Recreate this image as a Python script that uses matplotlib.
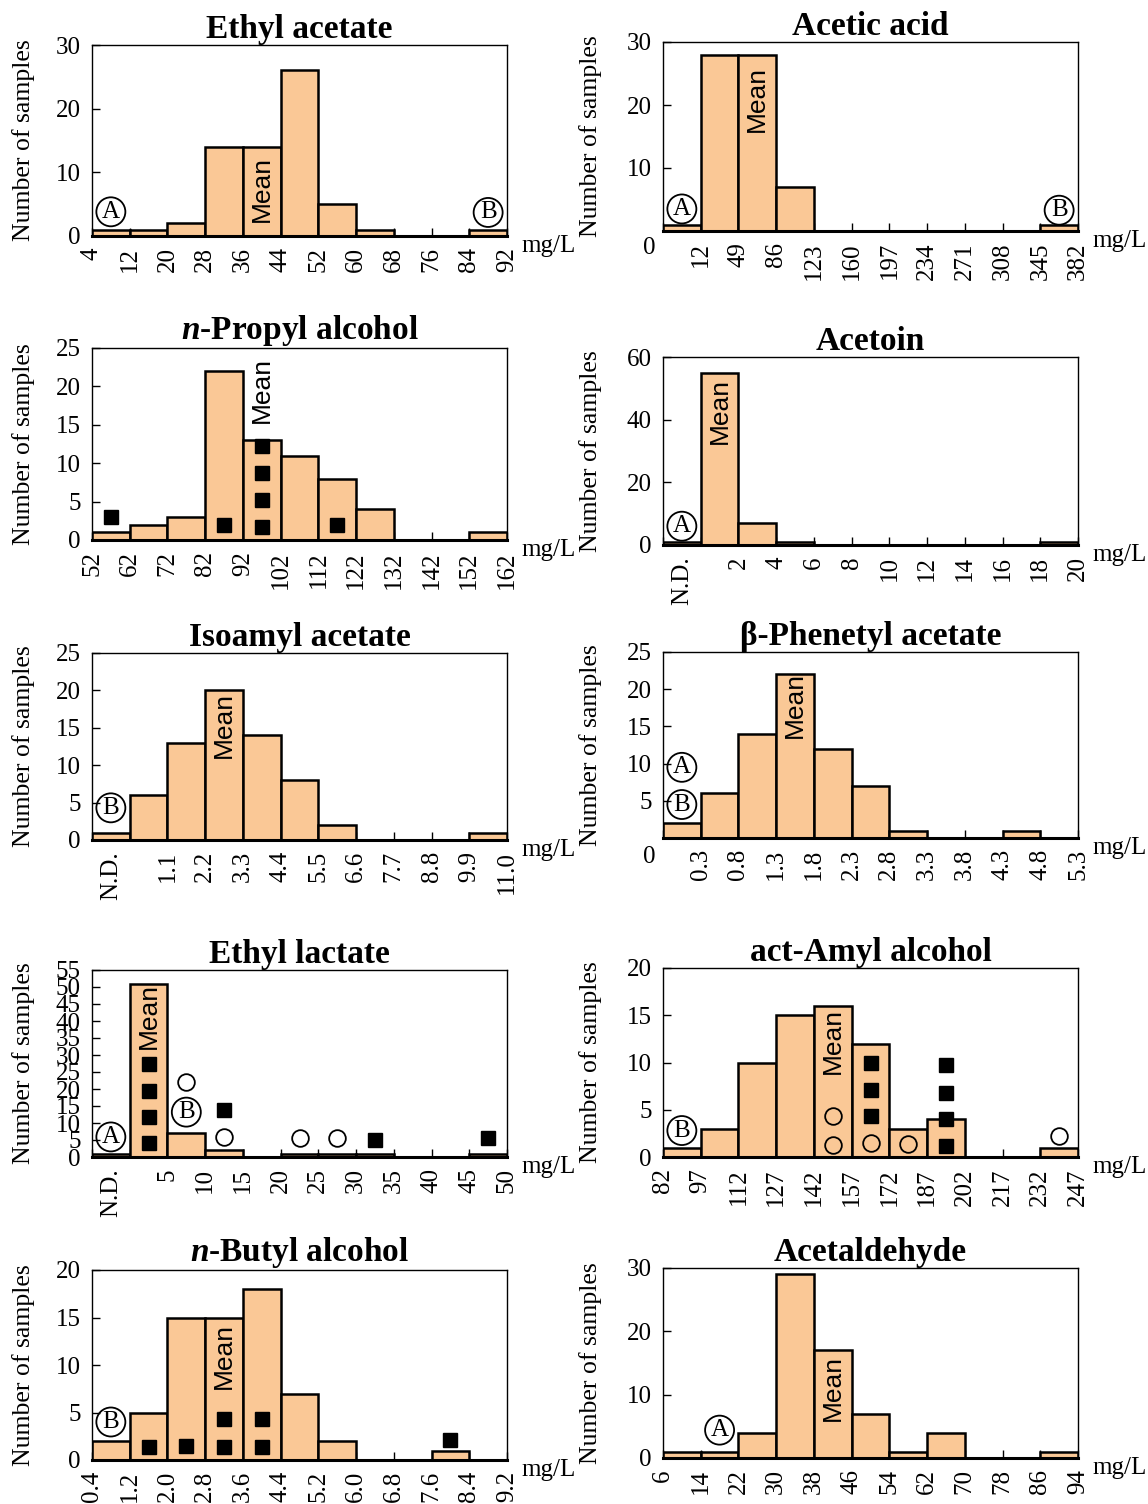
import matplotlib
matplotlib.use('Agg')
import matplotlib.pyplot as plt
import numpy as np

plt.rcParams['font.family'] = ['Liberation Serif', 'DejaVu Serif']
plt.rcParams['mathtext.fontset'] = 'custom'
plt.rcParams['mathtext.it'] = 'Liberation Serif:italic:bold'
plt.rcParams['mathtext.rm'] = 'Liberation Serif:bold'

# ---------------- data ----------------
ethyl_acetate_counts = [1, 1, 2, 14, 14, 26, 5, 1, 0, 0, 1]
ethyl_acetate_edges = ['4', '12', '20', '28', '36', '44', '52', '60', '68', '76', '84', '92']

acetic_acid_counts = [1, 28, 28, 7, 0, 0, 0, 0, 0, 0, 1]
acetic_acid_edges = ['', '12', '49', '86', '123', '160', '197', '234', '271', '308', '345', '382']

n_propyl_counts = [1, 2, 3, 22, 13, 11, 8, 4, 0, 0, 1]
n_propyl_edges = ['52', '62', '72', '82', '92', '102', '112', '122', '132', '142', '152', '162']
n_propyl_sq_bin = [0, 3, 4, 4, 4, 4, 6]
n_propyl_sq_y = [3.0, 2.0, 1.7, 5.2, 8.7, 12.3, 2.0]

acetoin_counts = [1, 55, 7, 1, 0, 0, 0, 0, 0, 0, 1]
acetoin_edges = ['', '', '2', '4', '6', '8', '10', '12', '14', '16', '18', '20']

isoamyl_counts = [1, 6, 13, 20, 14, 8, 2, 0, 0, 0, 1]
isoamyl_edges = ['', '', '1.1', '2.2', '3.3', '4.4', '5.5', '6.6', '7.7', '8.8', '9.9', '11.0']

phenetyl_counts = [2, 6, 14, 22, 12, 7, 1, 0, 0, 1, 0]
phenetyl_edges = ['', '0.3', '0.8', '1.3', '1.8', '2.3', '2.8', '3.3', '3.8', '4.3', '4.8', '5.3']

ethyl_lactate_counts = [1, 51, 7, 2, 0, 1, 1, 1, 0, 0, 1]
ethyl_lactate_edges = ['', '', '5', '10', '15', '20', '25', '30', '35', '40', '45', '50']
ethyl_lactate_sq_bin = [1, 1, 1, 1, 3, 7, 10]
ethyl_lactate_sq_y = [4.1, 11.7, 19.5, 27.5, 13.7, 5.1, 5.6]
ethyl_lactate_oc_bin = [2, 3, 5, 6]
ethyl_lactate_oc_y = [22.0, 5.9, 5.6, 5.6]

amyl_counts = [1, 3, 10, 15, 16, 12, 3, 4, 0, 0, 1]
amyl_edges = ['82', '97', '112', '127', '142', '157', '172', '187', '202', '217', '232', '247']
amyl_sq_bin = [5, 5, 5, 7, 7, 7, 7]
amyl_sq_y = [4.3, 7.1, 9.9, 1.2, 4.0, 6.8, 9.75]
amyl_oc_bin = [4, 4, 5, 6, 10]
amyl_oc_y = [1.3, 4.3, 1.5, 1.4, 2.2]

butyl_counts = [2, 5, 15, 15, 18, 7, 2, 0, 0, 1, 0]
butyl_edges = ['0.4', '1.2', '2.0', '2.8', '3.6', '4.4', '5.2', '6.0', '6.8', '7.6', '8.4', '9.2']
butyl_sq_bin = [1, 2, 3, 3, 4, 4, 9]
butyl_sq_y = [1.4, 1.5, 1.4, 4.3, 1.4, 4.3, 2.1]

acetaldehyde_counts = [1, 1, 4, 29, 17, 7, 1, 4, 0, 0, 1]
acetaldehyde_edges = ['6', '14', '22', '30', '38', '46', '54', '62', '70', '78', '86', '94']

# ---------------- drawing ----------------
W, H = 1148, 1504
FILL = '#FAC896'
fig = plt.figure(figsize=(W / 100, H / 100), dpi=100)


def panel(box, title, counts, edges, ymax, ystep, mean, circled=(), nd=False,
          sq_bin=(), sq_y=(), oc_bin=(), oc_y=(), zero_drop=0, label_gap=57):
    l, t, r, b = box
    ax = fig.add_axes([l / W, 1 - b / H, (r - l) / W, (b - t) / H])
    n = len(counts)
    ax.bar(np.arange(n), counts, width=1, align='edge', color=FILL,
           edgecolor='black', linewidth=1.8, zorder=2)
    ax.set_xlim(0, n)
    ax.set_ylim(0, ymax)
    ax.set_xticks(np.arange(n + 1))
    ax.set_xticklabels(edges, rotation=90, fontsize=18)
    if nd:
        ax.set_xticks([0.5], minor=True)
        ax.set_xticklabels(['N.D.'], minor=True, rotation=90, fontsize=18)
        ax.tick_params(axis='x', which='minor', length=0, pad=8)
    yt = np.arange(0, ymax + 0.01, ystep)
    ax.set_yticks(yt)
    ylabels = ['%g' % v for v in yt]
    if zero_drop:
        ylabels[0] = ''
        ax.annotate('0', xy=(0, 0), xycoords='axes fraction', xytext=(-8, -zero_drop),
                    textcoords='offset pixels', ha='right', va='center', fontsize=18)
    ax.set_yticklabels(ylabels, fontsize=18)
    ax.tick_params(axis='both', which='major', direction='in', length=6, width=1)
    ax.tick_params(axis='x', which='major', pad=8)
    ax.tick_params(axis='y', which='major', pad=8)
    for s in ['top', 'right', 'left']:
        ax.spines[s].set_linewidth(1.0)
    ax.spines['bottom'].set_linewidth(2.2)
    ax.set_title(title, fontsize=24, fontweight='bold', pad=5)
    ax.set_ylabel('Number of samples', fontsize=18.5)
    ax.yaxis.set_label_coords(-label_gap / (r - l), 0.5)
    ax.annotate('mg/L', xy=(1, 0), xycoords='axes fraction', xytext=(14, -10),
                textcoords='offset pixels', ha='left', va='center', fontsize=18)
    mb, my = mean
    ax.text(mb + 0.5, my, 'Mean', rotation=90, ha='center', va='center',
            family='Liberation Sans', fontsize=19, zorder=4)
    for cb, cy, letter in circled:
        ax.text(cb + 0.5, cy, letter, ha='center', va='center', fontsize=18, zorder=5,
                bbox=dict(boxstyle='circle,pad=0.14', fc='none', ec='black', lw=1.3))
    if len(sq_bin):
        ax.plot(np.array(sq_bin) + 0.5, sq_y, 's', color='black', ms=10.5, zorder=5)
    if len(oc_bin):
        ax.plot(np.array(oc_bin) + 0.5, oc_y, 'o', mfc='none', mec='black', ms=12,
                mew=1.3, zorder=5)
    return ax


L = (92, 507)
R = (663, 1078)
RG = 61

panel((L[0], 45, L[1], 236), 'Ethyl acetate', ethyl_acetate_counts, ethyl_acetate_edges,
      30, 10, (4, 7.4), circled=[(0, 3.8, 'A'), (10, 3.7, 'B')])
panel((R[0], 42, R[1], 231), 'Acetic acid', acetic_acid_counts, acetic_acid_edges,
      30, 10, (2, 21), circled=[(0, 3.5, 'A'), (10, 3.3, 'B')], zero_drop=17, label_gap=RG)
panel((L[0], 348, L[1], 540), r'$\it{n}$-Propyl alcohol', n_propyl_counts, n_propyl_edges,
      25, 5, (4, 19.5), sq_bin=n_propyl_sq_bin, sq_y=n_propyl_sq_y)
panel((R[0], 357, R[1], 545), 'Acetoin', acetoin_counts, acetoin_edges,
      60, 20, (1, 42.8), circled=[(0, 6, 'A')], nd=True, label_gap=RG)
panel((L[0], 653, L[1], 840), 'Isoamyl acetate', isoamyl_counts, isoamyl_edges,
      25, 5, (3, 15.4), circled=[(0, 4.3, 'B')], nd=True)
panel((R[0], 652, R[1], 838), '\u03b2-Phenetyl acetate', phenetyl_counts, phenetyl_edges,
      25, 5, (3, 17.9), circled=[(0, 9.5, 'A'), (0, 4.5, 'B')], zero_drop=19, label_gap=RG)
panel((L[0], 970, L[1], 1157), 'Ethyl lactate', ethyl_lactate_counts, ethyl_lactate_edges,
      55, 5, (1, 41.4), circled=[(0, 5.9, 'A'), (2, 13.2, 'B')], nd=True,
      sq_bin=ethyl_lactate_sq_bin, sq_y=ethyl_lactate_sq_y,
      oc_bin=ethyl_lactate_oc_bin, oc_y=ethyl_lactate_oc_y)
panel((R[0], 968, R[1], 1157), 'act-Amyl alcohol', amyl_counts, amyl_edges,
      20, 5, (4, 12.3), circled=[(0, 2.8, 'B')],
      sq_bin=amyl_sq_bin, sq_y=amyl_sq_y, oc_bin=amyl_oc_bin, oc_y=amyl_oc_y, label_gap=RG)
panel((L[0], 1270, L[1], 1460), r'$\it{n}$-Butyl alcohol', butyl_counts, butyl_edges,
      20, 5, (3, 10.9), circled=[(0, 4.0, 'B')], sq_bin=butyl_sq_bin, sq_y=butyl_sq_y)
panel((R[0], 1268, R[1], 1458), 'Acetaldehyde', acetaldehyde_counts, acetaldehyde_edges,
      30, 10, (4, 11), circled=[(1, 4.4, 'A')], label_gap=RG)

fig.savefig('out.png', dpi=100)
